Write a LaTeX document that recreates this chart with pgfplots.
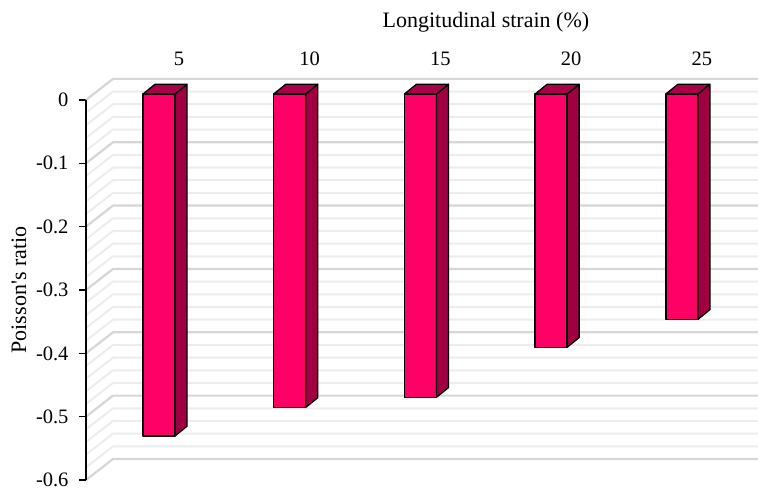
\documentclass[border=0pt]{standalone}
\usepackage{pgfplots}
\pgfplotsset{compat=1.18}
\usepackage{pgfplotstable}
\usepackage{fontspec}
\setmainfont{Liberation Serif}
\definecolor{barfront}{RGB}{255,0,102}
\definecolor{barside}{RGB}{160,0,66}
\definecolor{bartop}{RGB}{170,0,72}
\definecolor{gridmajor}{RGB}{214,214,214}
\definecolor{gridminor}{RGB}{236,236,236}

\pgfplotstableread{
x strain v
0 5 -0.540
1 10 -0.495
2 15 -0.479
3 20 -0.400
4 25 -0.356
}\datatable

\begin{document}
\begin{tikzpicture}
\path[use as bounding box] (0pt,0pt) rectangle (758pt,492pt);
\begin{axis}[
  at={(86pt,12pt)}, anchor=south west,
  scale only axis, width=645pt, height=380pt,
  xmin=-0.5585, xmax=4.376, ymin=-0.6, ymax=0,
  clip=false,
  font=\fontsize{20.5}{24}\selectfont,
  axis line style={draw=none},
  xtick={0.153,1.153,2.153,3.153,4.153},
  xticklabels={5,10,15,20,25},
  xticklabel pos=upper,
  x tick style={draw=none},
  xticklabel style={anchor=base, yshift=27pt},
  ytick={-0.6,-0.5,-0.4,-0.3,-0.2,-0.1,0},
  yticklabels={-0.6,-0.5,-0.4,-0.3,-0.2,-0.1,0},
  ytick pos=left,
  tick align=outside,
  major tick length=7pt,
  y tick style={black, line width=1.2pt},
  yticklabel style={anchor=east, xshift=-7pt},
  title={Longitudinal strain (\%)},
  title style={at={(axis description cs:0.62,1)}, anchor=base, yshift=66pt, font=\fontsize{22}{26}\selectfont},
  ylabel={Poisson\textquotesingle s ratio},
  ylabel style={at={(axis description cs:-0.1039,0.5)}, anchor=center, font=\fontsize{22}{26}\selectfont},
]
% back wall and side wall gridlines
\pgfplotsforeachungrouped \k in {0,...,30}{%
  \pgfmathsetmacro\v{-0.6+0.02*\k}%
  \pgfmathsetmacro\vb{\v+0.0332}%
  \pgfmathtruncatemacro\m{mod(\k,5)}%
  \ifnum\m=0
    \edef\temp{\noexpand\draw[gridmajor, line width=2.2pt] (axis cs:-0.5585,\v) -- (axis cs:-0.3519,\vb) -- (axis cs:4.5826,\vb);}%
  \else
    \edef\temp{\noexpand\draw[gridminor, line width=2pt] (axis cs:-0.5585,\v) -- (axis cs:-0.3519,\vb) -- (axis cs:4.5826,\vb);}%
  \fi
  \temp
}
% y axis line
\draw[black, line width=1.6pt] (axis cs:-0.5585,-0.6) -- (axis cs:-0.5585,0);
% bars (front, side, top faces) from the table values
\pgfplotsforeachungrouped \i in {0,...,4}{%
  \pgfplotstablegetelem{\i}{v}\of\datatable
  \pgfmathsetmacro\xa{\i-0.1224}%
  \pgfmathsetmacro\xb{\i+0.1224}%
  \pgfmathsetmacro\xc{\i+0.1224+0.0918}%
  \pgfmathsetmacro\xd{\i-0.1224+0.0918}%
  \pgfmathsetmacro\yt{0.0095}%
  \pgfmathsetmacro\yb{0.0095+\pgfplotsretval}%
  \pgfmathsetmacro\ytt{0.0095+0.0153}%
  \pgfmathsetmacro\ybb{\yb+0.0153}%
  \edef\temp{%
    \noexpand\addplot[fill=barfront, draw=black, line width=1.3pt, line join=round, forget plot] coordinates {(\xa,\yt) (\xb,\yt) (\xb,\yb) (\xa,\yb)} -- cycle;
    \noexpand\addplot[fill=barside, draw=black, line width=1.3pt, line join=round, forget plot] coordinates {(\xb,\yt) (\xc,\ytt) (\xc,\ybb) (\xb,\yb)} -- cycle;
    \noexpand\addplot[fill=bartop, draw=black, line width=1.3pt, line join=round, forget plot] coordinates {(\xa,\yt) (\xd,\ytt) (\xc,\ytt) (\xb,\yt)} -- cycle;
  }\temp
}
\end{axis}
\end{tikzpicture}
\end{document}
